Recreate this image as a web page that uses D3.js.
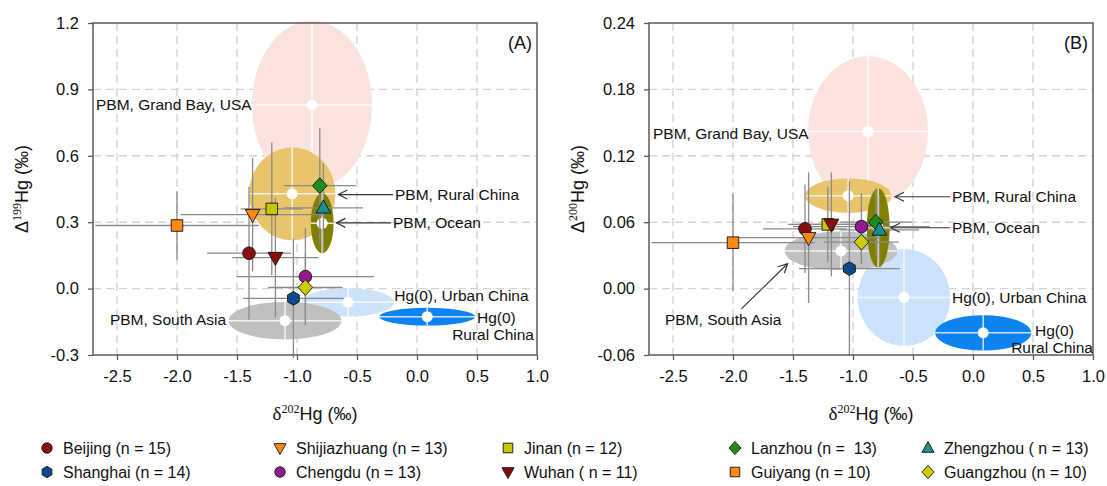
<!DOCTYPE html>
<html>
<head>
<meta charset="utf-8">
<script src="https://cdn.jsdelivr.net/npm/d3@7"></script>
<style>
  body { margin: 0; background: #fff; }
  svg { font-family: "Liberation Sans", Arial, sans-serif; }
</style>
</head>
<body>
<svg id="chart" width="1107" height="486"></svg>
<script>
// city aerosol samples (mean +/- sd)
const cities = ["Beijing", "Shijiazhuang", "Jinan", "Lanzhou", "Zhengzhou",
  "Shanghai", "Chengdu", "Wuhan", "Guiyang", "Guangzhou"];
const legendText = ["Beijing (n = 15)", "Shijiazhuang (n = 13)", "Jinan (n = 12)", "Lanzhou (n =  13)", "Zhengzhou ( n = 13)",
  "Shanghai (n = 14)", "Chengdu (n = 13)", "Wuhan ( n = 11)", "Guiyang (n = 10)", "Guangzhou (n = 10)"];
const d202   = [-1.40, -1.37, -1.21, -0.81, -0.78, -1.03, -0.93, -1.18, -2.00, -0.93];
const d202Sd = [0.35, 0.60, 0.26, 0.30, 0.33, 0.42, 0.57, 0.36, 0.68, 0.31];
const D199   = [0.16, 0.334, 0.36, 0.465, 0.365, -0.044, 0.054, 0.14, 0.285, 0.005];
const D199Sd = [0.30, 0.256, 0.30, 0.26, 0.20, 0.27, 0.22, 0.27, 0.155, 0.15];
const D200   = [0.054, 0.046, 0.058, 0.060, 0.053, 0.018, 0.056, 0.058, 0.0415, 0.042];
const D200Sd = [0.040, 0.059, 0.034, 0.030, 0.030, 0.079, 0.030, 0.047, 0.044, 0.020];

// source end-members (ellipses)
const sources   = ["PBM, Grand Bay, USA", "Hg(0), Urban China", "Hg(0), Rural China",
  "PBM, South Asia", "PBM, Rural China", "PBM, Ocean"];
const srcD202   = [-0.875, -0.575, 0.085, -1.10, -1.04, -0.79];
const srcD202Sd = [0.50, 0.385, 0.40, 0.47, 0.36, 0.095];
const srcD199   = [0.83, -0.062, -0.127, -0.145, 0.428, 0.295];
const srcD199Sd = [0.38, 0.064, 0.04, 0.085, 0.21, 0.136];
const srcD200   = [0.142, -0.008, -0.040, 0.034, 0.084, 0.055];
const srcD200Sd = [0.068, 0.0437, 0.016, 0.0175, 0.0155, 0.036];

const xTicks  = [-2.5, -2.0, -1.5, -1.0, -0.5, 0.0, 0.5, 1.0];
const yTicksA = [-0.3, 0.0, 0.3, 0.6, 0.9, 1.2];
const yTicksB = [-0.06, 0.00, 0.06, 0.12, 0.18, 0.24];

// styles
const cityColors = ["#8b0e0e", "#ff8a12", "#c8c800", "#1c8c1c", "#17908f",
  "#0c4a8c", "#931a93", "#8b0a0a", "#ff8a12", "#cccc00"];
const cityShapes = ["circle", "tridown", "square", "diamond", "triup",
  "hexagon", "circle", "tridown", "square", "diamond"];
const srcColors = ["#fbe3df", "#cde3fb", "#0d83f2", "#c0c0c0", "#e8c46b", "#808000"];

const shapePath = (shape, s) => {
  const k = s / 6;
  switch (shape) {
    case "circle": return d3.symbol(d3.symbolCircle, Math.PI * 36 * k * k)();
    case "square": return `M${-5.5*k},${-5.5*k}h${11*k}v${11*k}h${-11*k}Z`;
    case "diamond": return `M0,${-7.5*k}L${7*k},0L0,${7.5*k}L${-7*k},0Z`;
    case "triup": return `M0,${-7.5*k}L${7*k},${5*k}L${-7*k},${5*k}Z`;
    case "tridown": return `M0,${7.5*k}L${7*k},${-5*k}L${-7*k},${-5*k}Z`;
    case "hexagon": {
      const pts = d3.range(6).map(i => {
        const a = Math.PI / 3 * i + Math.PI / 6;
        return [6.5 * k * Math.cos(a), 6.5 * k * Math.sin(a)];
      });
      return "M" + pts.join("L") + "Z";
    }
  }
};

const svg = d3.select("#chart");

svg.append("defs").append("marker")
  .attr("id", "arrow")
  .attr("viewBox", "-10 -6 12 12")
  .attr("markerWidth", 12).attr("markerHeight", 12)
  .attr("markerUnits", "userSpaceOnUse")
  .attr("orient", "auto")
  .append("path")
  .attr("d", "M-9,-4.5L0,0L-9,4.5")
  .attr("fill", "none")
  .attr("stroke", "#333")
  .attr("stroke-width", 1.2);

const panels = [
  {
    tag: "(A)", left: 93, right: 537, yDomain: [-0.3, 1.2], yTicks: yTicksA, digits: 1,
    ys: D199, ysd: D199Sd, src: srcD199, srcSd: srcD199Sd, sup: "199",
    notes: [
      { t: "PBM, Grand Bay, USA", x: -2.675, y: 0.83, a: "start" },
      { t: "PBM, Rural China", x: -0.183, y: 0.425, a: "start", arrow: [-0.20, -0.655] },
      { t: "PBM, Ocean", x: -0.20, y: 0.297, a: "start", arrow: [-0.215, -0.672] },
      { t: "Hg(0), Urban China", x: -0.19, y: -0.032, a: "start" },
      { t: "Hg(0)", x: 0.50, y: -0.131, a: "start" },
      { t: "Rural China", x: 0.975, y: -0.208, a: "end" },
      { t: "PBM, South Asia", x: -1.59, y: -0.14, a: "end" }
    ]
  },
  {
    tag: "(B)", left: 649, right: 1093, yDomain: [-0.06, 0.24], yTicks: yTicksB, digits: 2,
    ys: D200, ysd: D200Sd, src: srcD200, srcSd: srcD200Sd, sup: "200",
    notes: [
      { t: "PBM, Grand Bay, USA", x: -2.667, y: 0.140, a: "start" },
      { t: "PBM, Rural China", x: -0.175, y: 0.083, a: "start", arrow: [-0.19, -0.65] },
      { t: "PBM, Ocean", x: -0.175, y: 0.055, a: "start", arrow: [-0.19, -0.685] },
      { t: "Hg(0), Urban China", x: -0.175, y: -0.008, a: "start" },
      { t: "Hg(0)", x: 0.517, y: -0.038, a: "start" },
      { t: "Rural China", x: 1.0, y: -0.053, a: "end" },
      { t: "PBM, South Asia", x: -2.567, y: -0.028, a: "start", line: [[-1.93, -0.0183], [-1.545, 0.0225]] }
    ]
  }
];

const plotTop = 23, plotBottom = 355;

panels.forEach(p => {
  const x = d3.scaleLinear().domain([-2.7, 1.0]).range([p.left, p.right]);
  const y = d3.scaleLinear().domain(p.yDomain).range([plotBottom, plotTop]);
  const g = svg.append("g");

  /////////////////////////////////////////////////////////
  // GRID

  g.selectAll("line.vgrid").data(xTicks.filter(d => d < 1.0)).enter().append("line")
    .attr("class", "vgrid")
    .attr("x1", d => x(d)).attr("x2", d => x(d))
    .attr("y1", plotTop).attr("y2", plotBottom)
    .attr("stroke", "#d4d4d4").attr("stroke-width", 1.4)
    .attr("stroke-dasharray", "8,5");

  g.selectAll("line.hgrid").data(p.yTicks.slice(1, -1)).enter().append("line")
    .attr("class", "hgrid")
    .attr("x1", p.left).attr("x2", p.right)
    .attr("y1", d => y(d)).attr("y2", d => y(d))
    .attr("stroke", "#d4d4d4").attr("stroke-width", 1.4)
    .attr("stroke-dasharray", "8,5");

  /////////////////////////////////////////////////////////
  // SOURCE ELLIPSES

  const src = g.selectAll("g.src").data(sources).enter().append("g").attr("class", "src");

  src.append("ellipse")
    .attr("cx", (d, i) => x(srcD202[i]))
    .attr("cy", (d, i) => y(p.src[i]))
    .attr("rx", (d, i) => x(srcD202[i] + srcD202Sd[i]) - x(srcD202[i]))
    .attr("ry", (d, i) => y(p.src[i]) - y(p.src[i] + p.srcSd[i]))
    .attr("fill", (d, i) => srcColors[i]);

  src.append("line")
    .attr("x1", (d, i) => x(srcD202[i] - srcD202Sd[i]))
    .attr("x2", (d, i) => x(srcD202[i] + srcD202Sd[i]))
    .attr("y1", (d, i) => y(p.src[i])).attr("y2", (d, i) => y(p.src[i]))
    .attr("stroke", "#fff").attr("stroke-width", 1.5).attr("stroke-opacity", 0.8);

  src.append("line")
    .attr("x1", (d, i) => x(srcD202[i])).attr("x2", (d, i) => x(srcD202[i]))
    .attr("y1", (d, i) => y(p.src[i] - p.srcSd[i]))
    .attr("y2", (d, i) => y(p.src[i] + p.srcSd[i]))
    .attr("stroke", "#fff").attr("stroke-width", 1.5).attr("stroke-opacity", 0.8);

  src.append("circle")
    .attr("cx", (d, i) => x(srcD202[i]))
    .attr("cy", (d, i) => y(p.src[i]))
    .attr("r", 5.5)
    .attr("fill", "#fff");

  /////////////////////////////////////////////////////////
  // ERROR BARS

  const bars = g.selectAll("g.err").data(cities).enter().append("g").attr("class", "err");

  bars.append("line")
    .attr("x1", (d, i) => x(d202[i] - d202Sd[i]))
    .attr("x2", (d, i) => x(d202[i] + d202Sd[i]))
    .attr("y1", (d, i) => y(p.ys[i])).attr("y2", (d, i) => y(p.ys[i]))
    .attr("stroke", "#8a8a8a").attr("stroke-width", 1.3);

  bars.append("line")
    .attr("x1", (d, i) => x(d202[i])).attr("x2", (d, i) => x(d202[i]))
    .attr("y1", (d, i) => y(p.ys[i] - p.ysd[i]))
    .attr("y2", (d, i) => y(p.ys[i] + p.ysd[i]))
    .attr("stroke", "#8a8a8a").attr("stroke-width", 1.3);

  /////////////////////////////////////////////////////////
  // MARKERS

  g.selectAll("path.city").data(cities).enter().append("path")
    .attr("class", "city")
    .attr("transform", (d, i) => `translate(${x(d202[i])},${y(p.ys[i])})`)
    .attr("d", (d, i) => shapePath(cityShapes[i], 6.3))
    .attr("fill", (d, i) => cityColors[i])
    .attr("stroke", "#111").attr("stroke-width", 0.9);

  /////////////////////////////////////////////////////////
  // FRAME + AXES

  g.append("rect")
    .attr("x", p.left).attr("y", plotTop)
    .attr("width", p.right - p.left).attr("height", plotBottom - plotTop)
    .attr("fill", "none").attr("stroke", "#5a5a5a").attr("stroke-width", 1.5);

  const xAxis = g.append("g")
    .attr("transform", `translate(0,${plotBottom})`)
    .call(d3.axisBottom(x).tickValues(xTicks).tickSize(5).tickPadding(10)
      .tickFormat(d => d.toFixed(1)));

  const yAxis = g.append("g")
    .attr("transform", `translate(${p.left},0)`)
    .call(d3.axisLeft(y).tickValues(p.yTicks).tickSize(5).tickPadding(9)
      .tickFormat(d => d.toFixed(p.digits)));

  [xAxis, yAxis].forEach(a => {
    a.select(".domain").remove();
    a.selectAll("line").attr("stroke", "#5a5a5a").attr("stroke-width", 1.3);
    a.selectAll("text").attr("font-size", 16.5).attr("fill", "#111")
      .attr("font-family", "'Liberation Sans', Arial, sans-serif");
  });

  // axis titles
  const xt = g.append("text")
    .attr("x", (p.left + p.right) / 2).attr("y", 420)
    .attr("text-anchor", "middle").attr("font-size", 18).attr("fill", "#111");
  xt.append("tspan").attr("font-family", "'Liberation Serif', serif").attr("font-size", 19).text("δ");
  xt.append("tspan").attr("font-family", "'Liberation Serif', serif").attr("font-size", 12).attr("dy", -7).text("202");
  xt.append("tspan").attr("dy", 7).text("Hg (‰)");

  const yt = g.append("text")
    .attr("transform", `translate(${p.left - 65},${(plotTop + plotBottom) / 2}) rotate(-90)`)
    .attr("text-anchor", "middle").attr("font-size", 18).attr("fill", "#111");
  yt.append("tspan").text("Δ");
  yt.append("tspan").attr("font-family", "'Liberation Serif', serif").attr("font-size", 12).attr("dy", -7).text(p.sup);
  yt.append("tspan").attr("dy", 7).text("Hg (‰)");

  g.append("text")
    .attr("x", p.right - 5).attr("y", 49)
    .attr("text-anchor", "end").attr("font-size", 18).attr("fill", "#111")
    .text(p.tag);

  /////////////////////////////////////////////////////////
  // ANNOTATIONS

  p.notes.forEach(n => {
    g.append("text")
      .attr("x", x(n.x)).attr("y", y(n.y))
      .attr("dy", "0.35em")
      .attr("text-anchor", n.a)
      .attr("font-size", 15.5).attr("fill", "#111")
      .text(n.t);
    if (n.arrow) {
      g.append("line")
        .attr("x1", x(n.arrow[0])).attr("x2", x(n.arrow[1]))
        .attr("y1", y(n.y)).attr("y2", y(n.y))
        .attr("stroke", "#333").attr("stroke-width", 1.2)
        .attr("marker-end", "url(#arrow)");
    }
    if (n.line) {
      g.append("line")
        .attr("x1", x(n.line[0][0])).attr("y1", y(n.line[0][1]))
        .attr("x2", x(n.line[1][0])).attr("y2", y(n.line[1][1]))
        .attr("stroke", "#333").attr("stroke-width", 1.2)
        .attr("marker-end", "url(#arrow)");
    }
  });
});

/////////////////////////////////////////////////////////
// LEGEND

const legendCols = [47, 280, 508, 735, 928];
const legendRows = [448, 472];

const item = svg.append("g").selectAll("g.leg").data(legendText).enter().append("g")
  .attr("class", "leg")
  .attr("transform", (d, i) => `translate(${legendCols[i % 5]},${legendRows[Math.floor(i / 5)]})`);

item.append("path")
  .attr("d", (d, i) => shapePath(cityShapes[i], 5.2))
  .attr("fill", (d, i) => cityColors[i])
  .attr("stroke", "#111").attr("stroke-width", 0.9);

item.append("text")
  .attr("x", 16).attr("dy", "0.35em")
  .attr("font-size", 16).attr("fill", "#111")
  .style("white-space", "pre")
  .text(d => d);
</script>
</body>
</html>
